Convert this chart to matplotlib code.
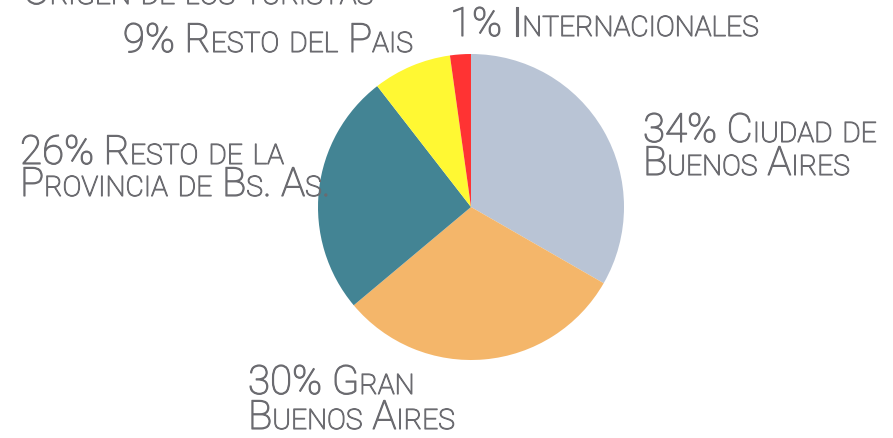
import matplotlib
matplotlib.use("Agg")
import matplotlib.pyplot as plt
import matplotlib.patheffects as pe
from matplotlib.font_manager import FontProperties

# ---- data ----
categories = ["Ciudad de Buenos Aires", "Gran Buenos Aires",
              "Resto de la Provincia de Bs. As.", "Resto del Pais", "Internacionales"]
slice_values = [33.3, 30.6, 25.6, 8.3, 2.2]   # angular shares
label_pct = ["34%", "30%", "26%", "9%", "1%"]
colors = ["#B9C4D5", "#F4B66A", "#438494", "#FFF833", "#FF3333"]
title = "Origen de los turistas"

W, H = 893, 439
TEXT_COLOR = "#6b6b70"
FAMILY = "Roboto"
WEIGHT = "light"
BIG = 29
SMALL = 20.3

fig = plt.figure(figsize=(W / 100, H / 100), dpi=100)
ax = fig.add_axes([0, 0, 1, 1])

ax.pie(slice_values, colors=colors, startangle=90, counterclock=False,
       center=(471, H - 208), radius=153, frame=True,
       wedgeprops=dict(linewidth=0))
ax.set_xlim(0, W)
ax.set_ylim(0, H)
ax.axis("off")

renderer = fig.canvas.get_renderer()
EFFECT = [pe.withStroke(linewidth=0.8, foreground=TEXT_COLOR)]


def text_w(s, size):
    prop = FontProperties(family=FAMILY, size=size, weight=WEIGHT)
    w, h, d = renderer.get_text_width_height_descent(s, prop, ismath=False)
    return w


def space_w(size):
    return text_w("n n", size) - text_w("nn", size)


def runs_of(s):
    runs = []
    for ch in s:
        if ch == " ":
            kind, out = "space", ch
        elif ch.islower():
            kind, out = "small", ch.upper()
        else:
            kind, out = "big", ch
        if runs and runs[-1][0] == kind:
            runs[-1][1] += out
        else:
            runs.append([kind, out])
    return runs


def smallcaps(x, y_top, s, ha="left"):
    y = H - y_top
    runs = runs_of(s)
    widths = []
    for kind, txt in runs:
        if kind == "space":
            widths.append(space_w(BIG) * len(txt))
        else:
            widths.append(text_w(txt, BIG if kind == "big" else SMALL))
    total = sum(widths)
    if ha == "right":
        x0 = x - total
    elif ha == "center":
        x0 = x - total / 2
    else:
        x0 = x
    cx = x0
    for (kind, txt), w in zip(runs, widths):
        if kind != "space":
            ax.text(cx, y, txt, fontsize=BIG if kind == "big" else SMALL,
                    family=FAMILY, weight=WEIGHT, color=TEXT_COLOR,
                    ha="left", va="baseline", path_effects=EFFECT)
        cx += w


# title (cut off at the top of the picture)
smallcaps(23, 5, title)

# labels
smallcaps(643, 143, label_pct[0] + " Ciudad de")
smallcaps(643, 176, "Buenos Aires")
smallcaps(248, 395, label_pct[1] + " Gran")
smallcaps(248, 430, "Buenos Aires")
smallcaps(20, 165, label_pct[2] + " Resto de la")
smallcaps(20, 197, "Provincia de Bs. As.")
smallcaps(413, 53, label_pct[3] + " Resto del Pais", ha="right")
smallcaps(450, 37, label_pct[4] + " Internacionales")

fig.savefig("out.png", dpi=100, facecolor="white")
